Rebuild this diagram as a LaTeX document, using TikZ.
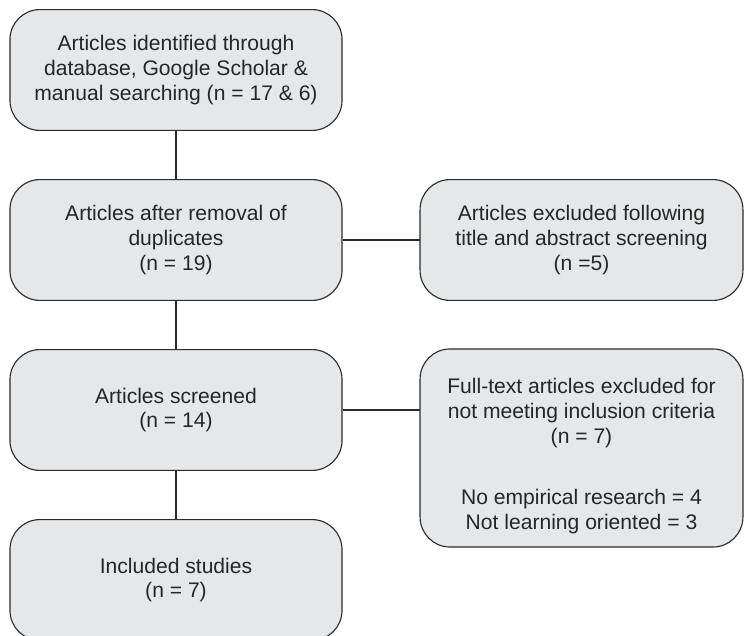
\documentclass[tikz,border=0pt]{standalone}
\usepackage{fontspec}
\setmainfont{Liberation Sans}
\usetikzlibrary{positioning}
\definecolor{boxfill}{HTML}{E6E7E8}
\definecolor{boxline}{HTML}{2B2B2B}
\begin{document}
\begin{tikzpicture}[x=0.025cm,y=-0.025cm,
	box/.style={draw=boxline,fill=boxfill,rounded corners=0.75cm,line width=0.8pt,
		minimum width=8.3cm,minimum height=3.02cm,align=center,
		font=\fontsize{15}{17.6}\selectfont,text=black!85},
	sidebox/.style={box,minimum width=8.07cm},
	link/.style={line width=1.5pt,draw=boxline}]
	\useasboundingbox (0,0) rectangle (744,636);
		\node(found)[box] at (176,70) {Articles identified through\\database, Google Scholar \&\\manual searching (n = 17 \& 6)};
		\node(dedup)[box] at (176,240) {Articles after removal of\\duplicates\\(n = 19)};
		\node(screened)[box] at (176,410) {Articles screened\\(n = 14)};
		\node(included)[box] at (176,580) {Included studies\\(n = 7)};
		\node(absout)[sidebox] at (581.5,240) {Articles excluded following\\title and abstract screening\\(n =5)};
		% extra strut on the first line pushes the text block down a little
		\node(fullout)[sidebox,minimum height=4.95cm] at (581.5,448) {\rule{0pt}{22pt}Full-text articles excluded for\\not meeting inclusion criteria\\(n = 7)\\[26pt]No empirical research = 4\\Not learning oriented = 3};
		\draw[link] (found) -- (dedup);
		\draw[link] (dedup) -- (screened);
		\draw[link] (screened) -- (included);
		\draw[link] (dedup.east) -- (dedup.east -| absout.west);
		\draw[link] (screened.east) -- (screened.east -| fullout.west);
\end{tikzpicture}
\end{document}
